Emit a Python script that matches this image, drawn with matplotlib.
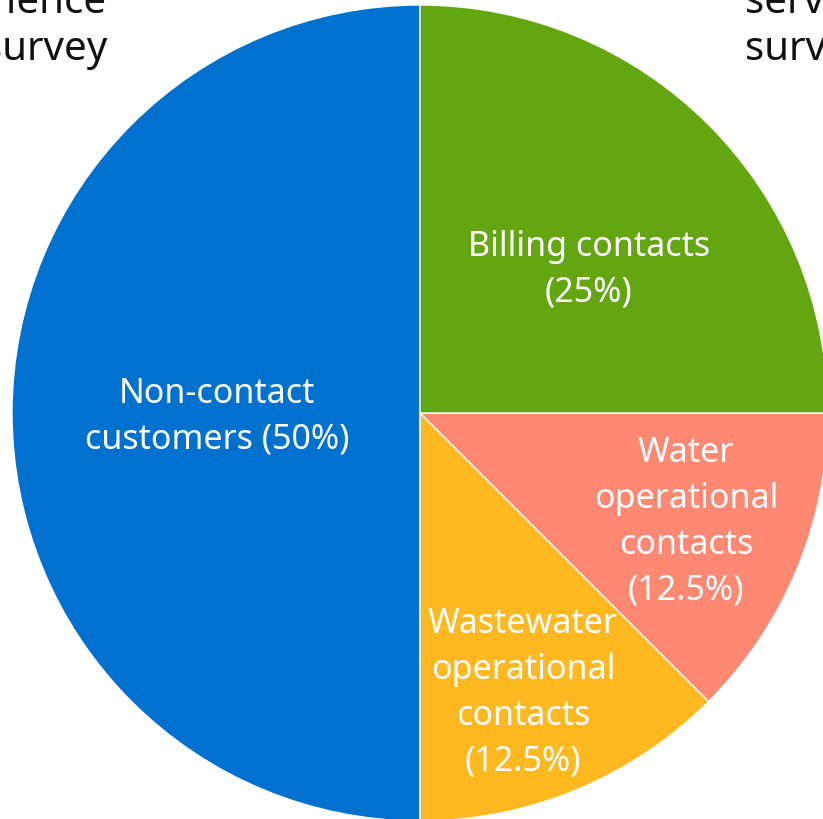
import matplotlib.pyplot as plt

categories = ['Non-contact\ncustomers (50%)', 'Wastewater\noperational\ncontacts\n(12.5%)',
              'Water\noperational\ncontacts\n(12.5%)', 'Billing contacts\n(25%)']
shares = [50, 12.5, 12.5, 25]
colors = ['#0071CE', '#FFB81F', '#FF8872', '#63A612']
# label centres in pixels (x, y from top)
label_px = [(217, 417), (523, 693), (686, 522), (589, 270)]

W, H = 823, 819
cx, cy, R = 420, 413, 408

plt.rcParams['font.family'] = ['Noto Sans', 'DejaVu Sans']

fig = plt.figure(figsize=(W / 100, H / 100), dpi=100)
ax = fig.add_axes([0, 0, 1, 1])
ax.pie(shares, colors=colors, startangle=90, counterclock=True, radius=1,
       wedgeprops=dict(edgecolor='white', linewidth=1))
ax.set_aspect('auto')
ax.set_xlim(-cx / R, (W - cx) / R)
ax.set_ylim(-(H - cy) / R, cy / R)
ax.axis('off')

def to_data(px, py):
    return (px - cx) / R, (cy - py) / R

for lab, (px, py) in zip(categories, label_px):
    x, y = to_data(px, py)
    ax.text(x, y, lab, ha='center', va='center', color='white', fontsize=24.5,
            fontweight='light', linespacing=1.45)

# survey captions cut by the figure edge
x, y = to_data(107, 3)
ax.text(x, y, 'Customer\nexperience\nsurvey', ha='right', va='center', fontsize=29,
        fontweight='light', linespacing=1.25, color='#111111', multialignment='right')
x, y = to_data(745, 3)
ax.text(x, y, 'Customer\nservice\nsurvey', ha='left', va='center', fontsize=29,
        fontweight='light', linespacing=1.25, color='#111111', multialignment='left')

fig.savefig('out.png', dpi=100)
